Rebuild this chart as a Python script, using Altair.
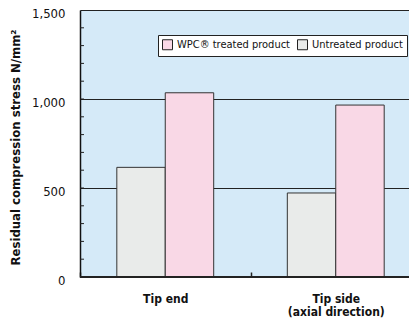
import altair as alt
import pandas as pd

groups = ["Tip end|", "Tip side|(axial direction)"]
series = ["Untreated product", "WPC® treated product"]
untreated = [616, 472]
treated = [1035, 966]
legend_order = ["WPC® treated product", "Untreated product"]
colors = ["#F9D8E6", "#E9EBEA"]
major_ticks = [0, 500, 1000, 1500]
minor_ticks = list(range(100, 1500, 100))

rows = []
for g, u, t in zip(groups, untreated, treated):
    rows.append({"group": g, "series": series[0], "value": u})
    rows.append({"group": g, "series": series[1], "value": t})
df = pd.DataFrame(rows)

FONT = "'Liberation Sans Narrow', 'DejaVu Sans Condensed', Roboto, 'Liberation Sans', sans-serif"

bars = alt.Chart(df).mark_bar(stroke="#333333", strokeWidth=1).encode(
    x=alt.X("group:N", sort=groups,
            scale=alt.Scale(paddingInner=0, paddingOuter=0, range=[0, 341]),
            axis=alt.Axis(title=None, offset=-5, tickSize=5, tickBand="extent",
                          tickColor="#222222", tickWidth=1.5, domain=False, labelAngle=0,
                          labelFont=FONT, labelFontSize=12, labelFontWeight="bold",
                          labelColor="#111111", labelPadding=16, labelBaseline="top",
                          labelLineHeight=13,
                          labelExpr="split(datum.label, '|')")),
    xOffset=alt.XOffset("series:N", sort=series,
                        scale=alt.Scale(paddingInner=0, paddingOuter=0.76)),
    y=alt.Y("value:Q", scale=alt.Scale(domain=[0, 1500], nice=False),
            axis=alt.Axis(values=major_ticks, format=",.0f", tickSize=0,
                          domain=True, domainColor="#111111", domainWidth=1.5,
                          labelOverlap=False, labelOffset=3,
                          labelFont=FONT, labelFontSize=13, labelColor="#111111",
                          labelPadding=15,
                          grid=True, gridColor="#222222", gridWidth=1,
                          title="Residual compression stress  N/mm²",
                          titleFont=FONT, titleFontSize=13, titleFontWeight="bold",
                          titleColor="#111111", titleAngle=-90, titleX=-65, titleY=137,
                          titleAlign="center", titleBaseline="middle")),
    color=alt.Color("series:N",
                    scale=alt.Scale(domain=legend_order, range=colors),
                    legend=alt.Legend(title=None, orient="none", direction="horizontal",
                                      legendX=78, legendY=25,
                                      fillColor="white", strokeColor="#222222",
                                      padding=4, symbolType="square", symbolSize=100,
                                      symbolStrokeColor="#222222", symbolStrokeWidth=1,
                                      symbolOpacity=1, columnPadding=5,
                                      labelFont=FONT, labelFontSize=11,
                                      labelColor="#111111", labelOffset=4)),
)

minor = alt.Chart(pd.DataFrame({"t": minor_ticks})).mark_rule(
    color="#222222", strokeWidth=1
).encode(y="t:Q", x=alt.value(0), x2=alt.value(4))

bottom = alt.Chart(pd.DataFrame({"v": [0]})).mark_rule(
    color="#222222", strokeWidth=2
).encode(y=alt.datum(0))

chart = alt.layer(bars, minor, bottom).properties(
    width=329, height=267,
    autosize=alt.AutoSizeParams(type="none"),
    padding={"left": 72, "top": 2, "right": 0, "bottom": 44},
    background="white",
).configure_view(fill="#D5EAF8", stroke=None)

chart.save("out.html", embed_options={"renderer": "svg", "actions": False})
